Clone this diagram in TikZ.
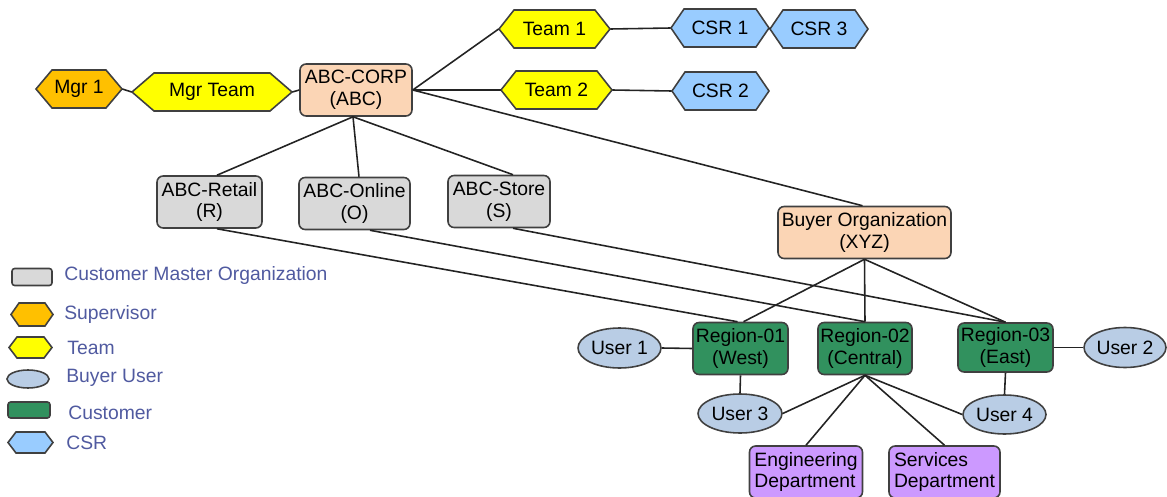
\documentclass[tikz,border=0pt]{standalone}
\usepackage{fontspec}
\setmainfont{Liberation Sans}
\usetikzlibrary{shapes}

\definecolor{edgegray}{RGB}{64,64,64}
\definecolor{linegray}{RGB}{35,35,35}
\definecolor{corppeach}{RGB}{251,213,181}
\definecolor{mastergray}{RGB}{217,217,217}
\definecolor{mgrorange}{RGB}{255,192,0}
\definecolor{teamyellow}{RGB}{255,255,0}
\definecolor{csrblue}{RGB}{153,204,255}
\definecolor{userblue}{RGB}{185,205,229}
\definecolor{custgreen}{RGB}{49,145,94}
\definecolor{deptviolet}{RGB}{204,153,255}
\definecolor{legendblue}{RGB}{80,90,160}

\begin{document}
\begin{tikzpicture}[x=0.02cm, y=-0.02cm,
        every node/.style={font=\fontsize{11}{12.5}\selectfont, inner sep=0pt, align=center},
        box/.style={draw=edgegray, line width=0.9pt, rounded corners=3.5pt, minimum height=1.04cm},
        corp/.style={box, fill=corppeach},
        master/.style={box, fill=mastergray},
        customer/.style={box, fill=custgreen},
        dept/.style={box, fill=deptviolet, align=left},
        user/.style={ellipse, draw=edgegray, line width=0.9pt, fill=userblue, minimum width=1.66cm, minimum height=0.8cm},
        hexline/.style={draw=edgegray, line width=0.9pt},
        link/.style={draw=linegray, line width=0.9pt},
        keytext/.style={anchor=west, text=legendblue}]
        \useasboundingbox (0,0) rectangle (1167,497);
        % hexagon: [indent]{name}{x,y}{width}{height}{fill}{text}
        \newcommand*\hexnode[7][15]{
            \filldraw[hexline, fill=#6] (#3) ++({-#4/2},0) -- ++(#1,-#5/2) -- ++({#4-2*#1},0) -- ++(#1,#5/2) -- ++(-#1,#5/2) -- ++({-#4+2*#1},0) -- cycle;
            \node[minimum width=#4*0.02cm, minimum height=#5*0.02cm] (#2) at (#3) {#7};}

        % top rows
        \hexnode[16]{mgr1}{79,89}{86}{38}{mgrorange}{Mgr 1}
        \hexnode[22]{mgrteam}{212,92}{160}{38}{teamyellow}{Mgr Team}
        \node[corp, minimum width=2.24cm] (corp) at (356,90) {ABC-CORP\\(ABC)};
        \hexnode{team1}{554.5,29}{111}{38}{teamyellow}{Team 1}
        \hexnode{team2}{556.5,90}{111}{38}{teamyellow}{Team 2}
        \hexnode[13]{csr1}{720,28}{98}{38}{csrblue}{CSR 1}
        \hexnode[13]{csr3}{819,29}{98}{38}{csrblue}{CSR 3}
        \hexnode[13]{csr2}{720.5,91}{97}{38}{csrblue}{CSR 2}

        % master organizations
        \node[master, minimum width=2.1cm] (retail) at (209.5,202) {ABC-Retail\\(R)};
        \node[master, minimum width=2.22cm] (online) at (354.5,203.5) {ABC-Online\\(O)};
        \node[master, minimum width=2.04cm] (store) at (499,201.5) {ABC-Store\\(S)};

        % buyer side
        \node[corp, minimum width=3.46cm] (buyer) at (864.5,232.5) {Buyer Organization\\(XYZ)};
        \node[customer, minimum width=1.9cm] (reg1) at (740.5,348.5) {Region-01\\(West)};
        \node[customer, minimum width=1.88cm] (reg2) at (865,348.5) {Region-02\\(Central)};
        \node[customer, minimum width=1.9cm, minimum height=0.98cm] (reg3) at (1005.5,347.5) {Region-03\\(East)};
        \node[user] (user1) at (619.5,348) {User 1};
        \node[user, minimum width=1.64cm] (user2) at (1125,347.5) {User 2};
        \node[user, minimum width=1.68cm, minimum height=0.78cm] (user3) at (740,413.5) {User 3};
        \node[user, minimum height=0.78cm] (user4) at (1004.5,414.5) {User 4};
        \node[dept, minimum width=2.26cm] (eng) at (806,472) {Engineering\\Department};
        \node[dept, minimum width=2.22cm] (serv) at (944.5,472) {Services\\Department};

        % connectors
        \draw[link] (mgr1.east) -- (mgrteam.west);
        \draw[link] (mgrteam.east) -- (corp.west);
        \draw[link] (corp.east) -- (team1.west);
        \draw[link] (corp.east) -- (team2.west);
        \draw[link] (corp.east) -- ([xshift=-0.04cm]buyer.north);
        \draw[link] (team1.east) -- (csr1.west);
        \draw[link] (csr1.east) -- (csr3.west);
        \draw[link] (team2.east) -- (csr2.west);
        \draw[link] ([xshift=-0.06cm]corp.south) -- ([xshift=0.15cm]retail.north);
        \draw[link] ([xshift=-0.06cm]corp.south) -- ([xshift=0.09cm]online.north);
        \draw[link] ([xshift=-0.06cm]corp.south) -- ([xshift=0.28cm]store.north);
        \draw[link] ([xshift=0.15cm]retail.south) -- ([xshift=-0.06cm]reg1.north);
        \draw[link] ([xshift=0.31cm]online.south) -- (reg2.north);
        \draw[link] ([xshift=0.28cm]store.south) -- (reg3.north);
        \draw[link] (buyer.south) -- ([xshift=0.06cm]reg1.north);
        \draw[link] (buyer.south) -- (reg2.north);
        \draw[link] (buyer.south) -- (reg3.north);
        \draw[link] (user1.east) -- (reg1.west);
        \draw[link] (reg1.south) -- (user3.north);
        \draw[link] (reg2.south) -- (user3.east);
        \draw[link] (reg2.south) -- (eng.north);
        \draw[link] (reg2.south) -- (serv.north);
        \draw[link] (reg2.south) -- (user4.west);
        \draw[link] (reg3.east) -- (user2.west);
        \draw[link] (reg3.south) -- (user4.north);

        % legend
        \node[master, minimum width=0.8cm, minimum height=0.34cm, rounded corners=1.5pt] (keymaster) at (32,277) {};
        \hexnode[8]{keysup}{32,314.5}{42}{23}{mgrorange}{}
        \hexnode[8]{keyteam}{30.5,347.5}{43}{21}{teamyellow}{}
        \node[user, minimum width=0.84cm, minimum height=0.36cm] (keyuser) at (28,379) {};
        \node[customer, minimum width=0.84cm, minimum height=0.32cm, rounded corners=1.5pt] (keycust) at (29,410) {};
        \hexnode[8]{keycsr}{30.5,442.5}{45}{21}{csrblue}{}
        \node[keytext] (keymastertext) at (64,276) {Customer Master Organization};
        \node[keytext] (keysuptext) at (64,314) {Supervisor};
        \node[keytext] (keyteamtext) at (67,348) {Team};
        \node[keytext] (keyusertext) at (66,378) {Buyer User};
        \node[keytext] (keycusttext) at (68,413) {Customer};
        \node[keytext] (keycsrtext) at (66,443) {CSR};
\end{tikzpicture}
\end{document}
